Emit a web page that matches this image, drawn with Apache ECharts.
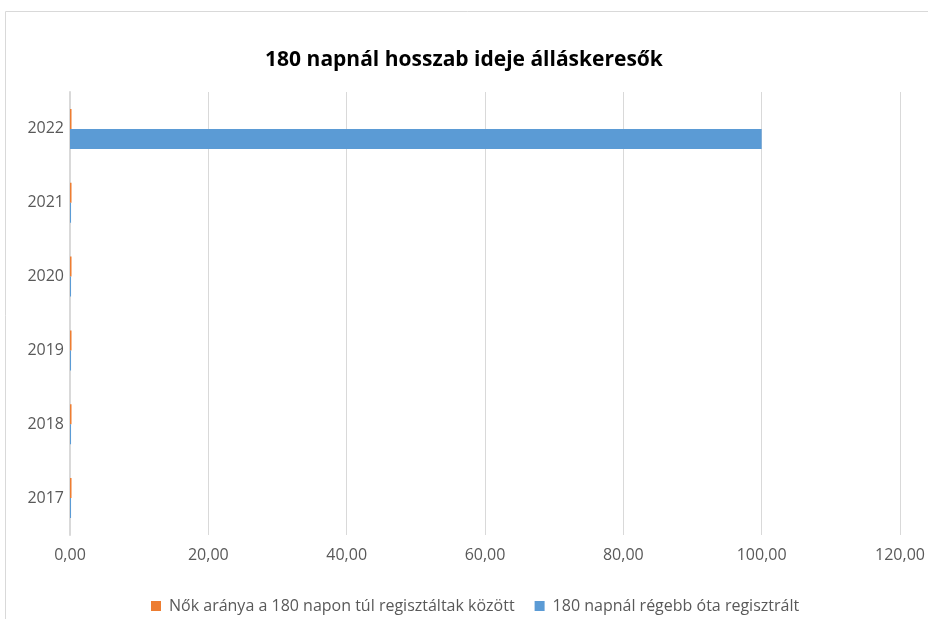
<!DOCTYPE html>
<html>
<head>
<meta charset="utf-8">
<script src="https://cdn.jsdelivr.net/npm/echarts@6/dist/echarts.min.js"></script>
<style>
  html, body { margin: 0; padding: 0; background: #fff; }
  #chart { width: 928px; height: 619px; }
</style>
</head>
<body>
<div id="chart"></div>
<script>
// adatok
const years = ["2017", "2018", "2019", "2020", "2021", "2022"]
const nokAranya = [0.22, 0.22, 0.22, 0.22, 0.22, 0.22]
const regebbOta = [0.15, 0.15, 0.15, 0.15, 0.15, 100]
const xTicks = { min: 0, max: 120, interval: 20 }

const chart = echarts.init(document.getElementById("chart"))

const font = "'Open Sans', sans-serif"

chart.setOption({
  animation: false,
  textStyle: { fontFamily: font },
  title: {
    text: "180 napnál hosszab ideje álláskeresők",
    left: "center",
    top: 45,
    textStyle: { fontSize: 21, fontWeight: "bold", color: "#000", fontFamily: font },
  },
  graphic: [
    {
      type: "rect",
      shape: { x: 5.5, y: 11.5, width: 940, height: 640 },
      style: { fill: "none", stroke: "#d9d9d9", lineWidth: 1 },
      silent: true,
    },
  ],
  legend: {
    bottom: 0,
    left: 146,
    itemWidth: 10,
    itemHeight: 10,
    itemGap: 20,
    icon: "rect",
    textStyle: { fontSize: 16, color: "#595959", fontFamily: font, padding: [0, 0, 0, 3] },
    data: ["Nők aránya a 180 napon túl regisztáltak között", "180 napnál régebb óta regisztrált"],
  },
  grid: { left: 70, right: 28, top: 92, bottom: 84 },
  xAxis: {
    type: "value",
    min: xTicks.min,
    max: xTicks.max,
    interval: xTicks.interval,
    axisLine: { show: false },
    axisTick: { show: false },
    axisLabel: {
      fontSize: 16,
      color: "#595959",
      margin: 12,
      formatter: (v) => v.toFixed(2).replace(".", ","),
    },
    splitLine: { lineStyle: { color: "#d9d9d9", width: 1 } },
  },
  yAxis: {
    type: "category",
    data: years,
    axisLine: { lineStyle: { color: "#d9d9d9", width: 2 } },
    axisTick: { show: false },
    axisLabel: { fontSize: 16, color: "#595959", margin: 6 },
  },
  series: [
    {
      name: "Nők aránya a 180 napon túl regisztáltak között",
      type: "bar",
      data: nokAranya,
      barWidth: 20,
      barGap: "0%",
      itemStyle: { color: "#ed7d31" },
    },
    {
      name: "180 napnál régebb óta regisztrált",
      type: "bar",
      data: regebbOta,
      barWidth: 20,
      barGap: "0%",
      itemStyle: { color: "#5b9bd5" },
    },
  ],
})
</script>
</body>
</html>
